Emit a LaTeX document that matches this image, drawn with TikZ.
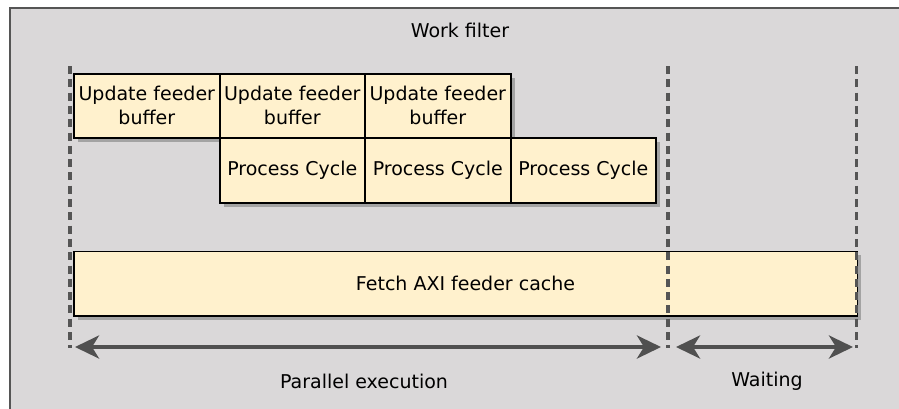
\documentclass[tikz,border=0pt]{standalone}
\usepackage{fontspec}
\setmainfont{DejaVu Sans}
\usetikzlibrary{arrows.meta,shadows}
\definecolor{framebg}{HTML}{DAD8D9}
\definecolor{framedraw}{HTML}{555555}
\definecolor{boxfill}{HTML}{FFF1CD}
\definecolor{shadowgray}{HTML}{A3A3A3}
\definecolor{dashgray}{HTML}{555555}
\definecolor{arrowgray}{HTML}{505050}
\tikzset{
  taskbox/.style={draw=black, line width=1.6pt, fill=boxfill, inner sep=0pt,
    anchor=north west, align=center, font=\fontsize{19}{24}\selectfont,
    drop shadow={shadow xshift=4pt, shadow yshift=-4pt, fill=shadowgray, opacity=1}},
  labeltext/.style={font=\fontsize{19}{24}\selectfont, inner sep=0pt},
  divider/.style={draw=dashgray, line width=3.2pt, dash pattern=on 8pt off 5.3pt},
  spanarrow/.style={draw=arrowgray, line width=4pt,
    {Stealth[length=24pt,width=23pt,inset=7pt]}-{Stealth[length=24pt,width=23pt,inset=7pt]}}
}
\begin{document}
\begin{tikzpicture}[x=1pt,y=-1pt]
\useasboundingbox (0,0) rectangle (899,408);
\clip (0,0) rectangle (899,408);
% frame
\draw[fill=framebg, draw=framedraw, line width=2pt] (10,8) rectangle (910,420);
\node[labeltext] (title) at (460,30) {Work filter};

% dividers
\coordinate (d1t) at (70,66);  \coordinate (d1b) at (70,348);
\coordinate (d2t) at (668,66); \coordinate (d2b) at (668,348);
\coordinate (d3t) at (856.5,66); \coordinate (d3b) at (856.5,348);

% boxes
\node[taskbox, minimum width=146pt, minimum height=64pt] (u1) at (73,73) {Update feeder\\buffer};
\node[taskbox, minimum width=145pt, minimum height=64pt] (u2) at (219,73) {Update feeder\\buffer};
\node[taskbox, minimum width=146pt, minimum height=64pt] (u3) at (364,73) {Update feeder\\buffer};
\node[taskbox, minimum width=145pt, minimum height=65pt] (p1) at (219,137) {Process Cycle};
\node[taskbox, minimum width=146pt, minimum height=65pt] (p2) at (364,137) {Process Cycle};
\node[taskbox, minimum width=145pt, minimum height=65pt] (p3) at (510,137) {Process Cycle};
\node[taskbox, minimum width=783.5pt, minimum height=64.5pt] (fetch) at (73,250.5) {Fetch AXI feeder cache};

\draw[divider] (d1t) -- (d1b);
\draw[divider] (d2t) -- (d2b);
\draw[divider] (d3t) -- (d3b);

% span arrows
\coordinate (a1l) at (75,347);  \coordinate (a1r) at (661,347);
\coordinate (a2l) at (676,347); \coordinate (a2r) at (853,347);
\draw[spanarrow] (a1l) -- (a1r);
\draw[spanarrow] (a2l) -- (a2r);

\node[labeltext] (par) at (364,381) {Parallel execution};
\node[labeltext] (wait) at (767,381) {Waiting};
\end{tikzpicture}
\end{document}
